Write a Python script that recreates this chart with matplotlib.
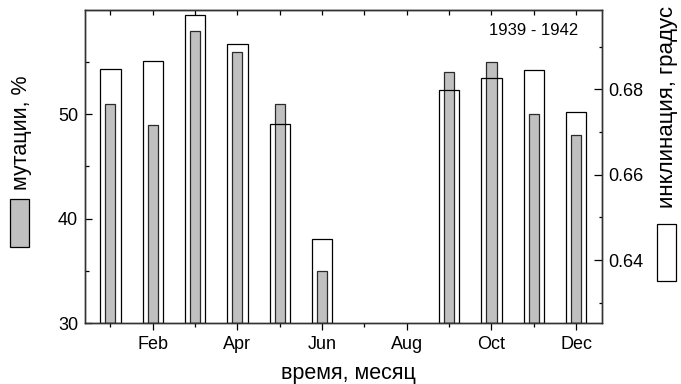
import numpy as np
from matplotlib import pyplot as plt
from matplotlib.patches import Rectangle

plt.rcParams['font.family'] = ['Liberation Sans', 'DejaVu Sans']

months = [1, 2, 3, 4, 5, 6, 7, 8, 9, 10, 11, 12]
month_labels = ['Feb', 'Apr', 'Jun', 'Aug', 'Oct', 'Dec']
mutation = [51, 49, 58, 56, 51, 35, None, None, 54, 55, 50, 48]
inclination = [0.6847, 0.6866, 0.6975, 0.6907, 0.6718, 0.6450, None, None,
               0.6798, 0.6827, 0.6846, 0.6748]

y1lim = (30, 60)
y2lim = (0.6252, 0.6987)

fig = plt.figure(figsize=(6.81, 3.84), dpi=100)
ax = fig.add_axes([85 / 681, 1 - 323.3 / 384, (601.5 - 85) / 681, (323.3 - 9.7) / 384])
ax2 = ax.twinx()

# мутации (серые)
xm = [m for m, v in zip(months, mutation) if v is not None]
vm = [v for v in mutation if v is not None]
ax.bar(xm, np.array(vm) - y1lim[0], bottom=y1lim[0], width=0.24,
       facecolor='#c0c0c0', edgecolor='#2a2a2a', linewidth=0.9, zorder=2)

# инклинация (белые, без заливки поверх)
xi = [m for m, v in zip(months, inclination) if v is not None]
vi = [v for v in inclination if v is not None]
ax2.bar(xi, np.array(vi) - y2lim[0], bottom=y2lim[0], width=0.48,
        facecolor='none', edgecolor='black', linewidth=0.9, zorder=2)

ax.set_xlim(0.4, 12.6)
ax.set_ylim(*y1lim)
ax2.set_ylim(*y2lim)

ax.set_xticks([2, 4, 6, 8, 10, 12])
ax.set_xticklabels(month_labels, fontsize=13)
ax.set_xticks([1, 3, 5, 7, 9, 11], minor=True)
ax.tick_params(axis='x', which='major', direction='out', length=5, width=0.9, pad=4)
ax.tick_params(axis='x', which='minor', direction='out', length=3, width=0.9)

ax.set_yticks([30, 40, 50])
ax.set_yticks([35, 45, 55], minor=True)
ax.tick_params(axis='y', which='major', direction='in', length=5, width=0.9,
               labelsize=13, pad=5)
ax.tick_params(axis='y', which='minor', direction='in', length=3, width=0.9)

ax2.set_yticks([0.64, 0.66, 0.68])
ax2.set_yticklabels(['0.64', '0.66', '0.68'])
ax2.set_yticks([0.63, 0.65, 0.67, 0.69], minor=True)
ax2.tick_params(axis='y', which='major', direction='in', length=6, width=0.9,
                labelsize=13, pad=5)
ax2.tick_params(axis='y', which='minor', direction='in', length=2, width=0.9)

top = ax.secondary_xaxis('top')
top.set_xticks(months)
top.set_xticklabels([])
top.tick_params(direction='in', length=3.5, width=0.9)

for a in (ax, ax2):
    for s in a.spines.values():
        s.set_linewidth(1.0)
        s.set_color('#333333')

ax2.text(0.955, 0.935, '1939 - 1942', transform=ax.transAxes, ha='right', va='center',
         fontsize=12)

fig.text(348 / 681, 1 - 374 / 384, 'время, месяц', ha='center', va='center', fontsize=15.5)

# подписи осей с образцами заливки
fig.text(22 / 681, 1 - 133 / 384, 'мутации, %', rotation=90, ha='center', va='center',
         fontsize=15.5)
fig.patches.append(Rectangle((9.5 / 681, 1 - 247 / 384), 19 / 681, 48 / 384,
                             transform=fig.transFigure, facecolor='#c0c0c0',
                             edgecolor='black', linewidth=0.9))
fig.text(667 / 681, 1 - 107 / 384, 'инклинация, градус', rotation=90, ha='center',
         va='center', fontsize=16)
fig.patches.append(Rectangle((657 / 681, 1 - 281 / 384), 19 / 681, 57 / 384,
                             transform=fig.transFigure, facecolor='white',
                             edgecolor='black', linewidth=0.9))

fig.savefig('out.png', dpi=100)
